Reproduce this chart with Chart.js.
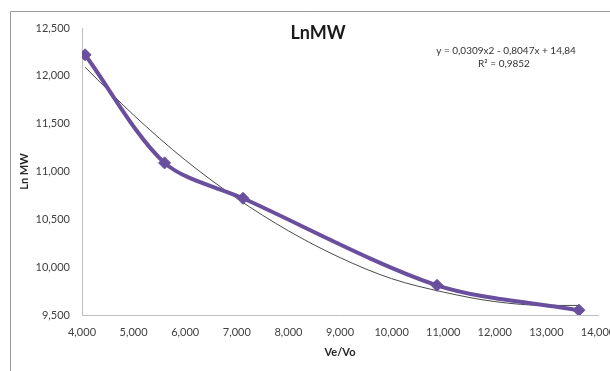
<!DOCTYPE html>
<html>
<head>
<meta charset="utf-8">
<script src="https://cdn.jsdelivr.net/npm/chart.js@4/dist/chart.umd.min.js"></script>
<style>
    body { margin: 0; background: #fff; }
    #wrap { width: 610px; height: 371px; }
</style>
</head>
<body>
<div id="wrap"><canvas id="myChart" width="610" height="371"></canvas></div>
<script>
// Данные
const veVo = [4.06, 5.6, 7.12, 10.88, 13.63];
const lnMW = [12.22, 11.09, 10.72, 9.81, 9.55];

// Линия тренда (полином 2-й степени), точки
const trendX = [4.06, 5, 6, 7, 8, 9, 10, 11, 12, 13, 13.63];
const trendY = [12.09, 11.59, 11.12, 10.72, 10.38, 10.10, 9.88, 9.74, 9.64, 9.60, 9.60];

const chartTitle = 'LnMW';
const equation = ['y = 0,0309x2 - 0,8047x + 14,84', 'R² = 0,9852'];
const xTitle = 'Ve/Vo';
const yTitle = 'Ln MW';

const font = "Lato, 'Open Sans', sans-serif";
const purple = '#6a4f9e';

function commaFmt(v) {
    return Number(v).toFixed(3).replace('.', ',');
}

// Рамка, заголовок и уравнение тренда
const decor = {
    id: 'decor',
    beforeDraw(chart) {
        const ctx = chart.ctx;
        ctx.save();
        ctx.fillStyle = '#fff';
        ctx.fillRect(0, 0, chart.width, chart.height);
        ctx.strokeStyle = '#9a9a9a';
        ctx.lineWidth = 1;
        ctx.beginPath();
        ctx.moveTo(10.5, chart.height);
        ctx.lineTo(10.5, 11.5);
        ctx.lineTo(chart.width, 11.5);
        ctx.stroke();
        ctx.restore();
    },
    afterDraw(chart) {
        const ctx = chart.ctx;
        ctx.save();
        ctx.fillStyle = '#1a1a1a';
        ctx.textAlign = 'center';
        ctx.textBaseline = 'middle';
        ctx.font = "bold 18px " + font;
        ctx.fillText(chartTitle, 318, 33);
        ctx.font = "10px " + font;
        ctx.fillStyle = '#333';
        ctx.fillText(equation[0], 506, 51);
        ctx.fillText(equation[1], 504, 64);
        ctx.restore();
    }
};

const ctx = document.getElementById('myChart');
const config = {
    type: 'scatter',
    data: {
        datasets: [{
            label: 'LnMW',
            data: veVo.map((x, i) => ({x: x, y: lnMW[i]})),
            showLine: true,
            borderColor: purple,
            backgroundColor: purple,
            borderWidth: 4,
            tension: 0.3,
            pointStyle: 'rectRot',
            pointRadius: 6,
            pointBorderWidth: 1
        }, {
            label: 'trend',
            data: trendX.map((x, i) => ({x: x, y: trendY[i]})),
            showLine: true,
            borderColor: '#4a4a4a',
            borderWidth: 1,
            pointRadius: 0,
            cubicInterpolationMode: 'monotone'
        }]
    },
    options: {
        responsive: false,
        animation: false,
        layout: { padding: { left: 11, top: 28, right: 12, bottom: 0 } },
        plugins: {
            legend: { display: false },
            tooltip: { enabled: false }
        },
        scales: {
            x: {
                type: 'linear',
                min: 4,
                max: 14,
                grid: { display: false, drawTicks: false },
                border: { display: true, color: '#bfbfbf', width: 1 },
                ticks: {
                    stepSize: 1,
                    padding: 11,
                    color: '#404040',
                    font: { family: font, size: 11 },
                    callback: v => commaFmt(v),
                    maxRotation: 0
                },
                title: {
                    display: true,
                    text: xTitle,
                    color: '#262626',
                    font: { family: font, size: 11, weight: 'bold' },
                    padding: { top: 0, bottom: 12 }
                },
                afterFit(scale) {
                    scale.height = 56;
                    scale.paddingLeft = 0;
                    scale.paddingRight = 0;
                }
            },
            y: {
                min: 9.5,
                max: 12.5,
                grid: { display: false, drawTicks: false },
                border: { display: true, color: '#bfbfbf', width: 1 },
                ticks: {
                    stepSize: 0.5,
                    padding: 12,
                    color: '#404040',
                    font: { family: font, size: 11 },
                    callback: v => commaFmt(v)
                },
                title: {
                    display: true,
                    text: yTitle,
                    color: '#262626',
                    font: { family: font, size: 11, weight: 'bold' },
                    padding: { top: 7, bottom: 0 }
                },
                afterFit(scale) {
                    scale.width = 71;
                    scale.paddingTop = 0;
                    scale.paddingBottom = 0;
                }
            }
        }
    },
    plugins: [decor]
};

let chart = new Chart(ctx, config);
</script>
</body>
</html>
